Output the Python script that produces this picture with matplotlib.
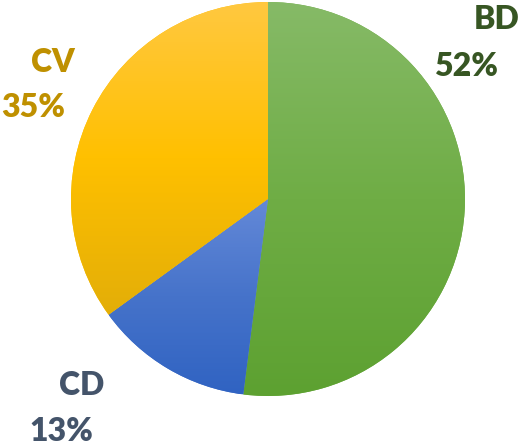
import numpy as np
import matplotlib
matplotlib.use("Agg")
import matplotlib.pyplot as plt
from matplotlib.colors import LinearSegmentedColormap

labels = ["BD", "CD", "CV"]
shares = [52, 13, 35]
# light top, base, darker bottom for each slice
gradients = [
    ["#86BA67", "#6FAD45", "#5DA131"],
    ["#6489D8", "#4673CA", "#3063C2"],
    ["#FFC840", "#FFC000", "#E3AE08"],
]
label_colors = ["#375623", "#44546A", "#BF9000"]

W, H = 521, 446
fig = plt.figure(figsize=(W / 100, H / 100), dpi=100)
ax = fig.add_axes([0, 0, 1, 1])

cx, cy, r = 268, H - 199, 197
wedges, _ = ax.pie(shares, startangle=90, counterclock=False,
                   center=(cx, cy), radius=r, colors=[g[1] for g in gradients],
                   wedgeprops=dict(linewidth=0), frame=True)

ramp = np.linspace(0, 1, 256).reshape(-1, 1)
for w, cols in zip(wedges, gradients):
    cmap = LinearSegmentedColormap.from_list("g", cols[::-1])
    bb = w.get_path().get_extents(w.get_patch_transform())
    im = ax.imshow(ramp, cmap=cmap, origin="lower", aspect="auto",
                   extent=(bb.x0, bb.x1, bb.y0, bb.y1), interpolation="bilinear",
                   zorder=2)
    im.set_clip_path(w)

ax.set_xlim(0, W)
ax.set_ylim(0, H)
ax.set_aspect("equal")
ax.axis("off")

font = dict(family=["Lato", "DejaVu Sans"], fontweight="heavy", fontsize=23,
            ha="center", va="baseline")
# name and percentage for each slice (x centre, baseline from the top)
spots = {
    "BD": ((497, 29), (466, 76)),
    "CD": ((82, 395), (61, 441)),
    "CV": ((53, 72), (33, 117)),
}
for lab, val, col in zip(labels, shares, label_colors):
    (nx, ny), (px, py) = spots[lab]
    ax.text(nx, H - ny, lab, color=col, **font)
    ax.text(px, H - py, f"{val}%", color=col, **font)

fig.savefig("out.png", dpi=100)
